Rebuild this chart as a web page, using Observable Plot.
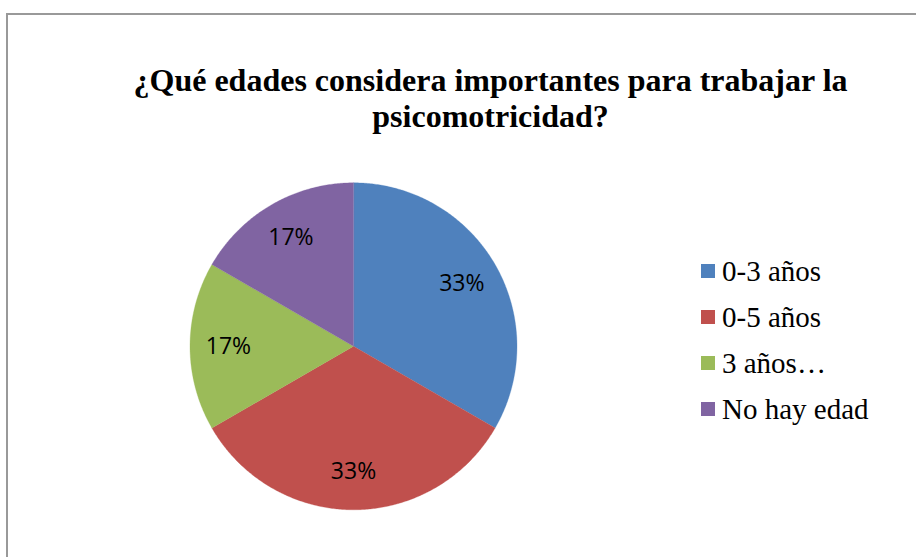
<!DOCTYPE html>
<html>
<head>
<meta charset="utf-8">
<script src="https://cdn.jsdelivr.net/npm/d3@7"></script>
<script src="https://cdn.jsdelivr.net/npm/@observablehq/plot@0.6"></script>
<style>
  html, body { margin: 0; padding: 0; background: #fff; }
  #wrap { position: relative; width: 916px; height: 557px; overflow: hidden; background: #fff; }
  #frame { position: absolute; left: 6px; top: 13px; width: 1000px; height: 600px;
           border-left: 2px solid #999; border-top: 2px solid #999; box-sizing: border-box; }
  #plot { position: absolute; left: 0; top: 0; }
  #title { position: absolute; left: 90px; width: 801px; top: 62px; text-align: center;
           font-family: "Liberation Serif", "Times New Roman", serif; font-weight: bold;
           font-size: 32px; line-height: 36px; color: #000; }
  .lg-sw { position: absolute; width: 14px; height: 14px; }
  .lg-tx { position: absolute; font-family: "Liberation Serif", "Times New Roman", serif;
           font-size: 29px; line-height: 29px; color: #000; white-space: nowrap; }
</style>
</head>
<body>
<div id="wrap">
  <div id="frame"></div>
  <div id="plot"></div>
  <div id="title">¿Qué edades considera importantes para trabajar la<br>psicomotricidad?</div>
  <div id="legend"></div>
</div>
<script>
const categories = ["0-3 años", "0-5 años", "3 años…", "No hay edad"];
const values = [2, 2, 1, 1];
const colors = ["#4F81BD", "#C0504D", "#9BBB59", "#8064A2"];

const data = categories.map((c, i) => ({cat: c, value: values[i]}));
const total = d3.sum(values);
const arcs = d3.pie().sort(null).value(d => d.value)(data);

// polygon points for each slice in unit-circle coordinates
const pts = [];
for (const a of arcs) {
  pts.push({cat: a.data.cat, x: 0, y: 0});
  const n = Math.max(2, Math.ceil((a.endAngle - a.startAngle) / (Math.PI / 360)));
  for (let k = 0; k <= n; k++) {
    const t = a.startAngle + (a.endAngle - a.startAngle) * k / n;
    pts.push({cat: a.data.cat, x: Math.sin(t), y: Math.cos(t)});
  }
}
const labelR = 0.765;
const labels = arcs.map(a => {
  const m = (a.startAngle + a.endAngle) / 2;
  return {x: labelR * Math.sin(m), y: labelR * Math.cos(m), text: Math.round(a.data.value / total * 100) + "%"};
});

const chart = Plot.plot({
  width: 916,
  height: 557,
  margin: 0,
  style: {background: "transparent"},
  x: {domain: [-1, 1], range: [189.5, 516.5], axis: null},
  y: {domain: [-1, 1], range: [509.3, 182.3], axis: null},
  color: {domain: categories, range: colors},
  marks: [
    Plot.line(pts, {x: "x", y: "y", z: "cat", fill: "cat", stroke: "cat", strokeWidth: 0.3, curve: "linear-closed"}),
    Plot.text(labels, {x: "x", y: "y", text: "text", fill: "#000", fontSize: 23,
      fontFamily: "'Open Sans', 'Liberation Sans', sans-serif"})
  ]
});
document.getElementById("plot").appendChild(chart);

const legend = document.getElementById("legend");
categories.forEach((c, i) => {
  const sw = document.createElement("div");
  sw.className = "lg-sw";
  sw.style.left = "701px";
  sw.style.top = (263.5 + i * 46) + "px";
  sw.style.background = colors[i];
  legend.appendChild(sw);
  const tx = document.createElement("div");
  tx.className = "lg-tx";
  tx.style.left = "722px";
  tx.style.top = (256.7 + i * 46) + "px";
  tx.textContent = c;
  legend.appendChild(tx);
});
</script>
</body>
</html>
